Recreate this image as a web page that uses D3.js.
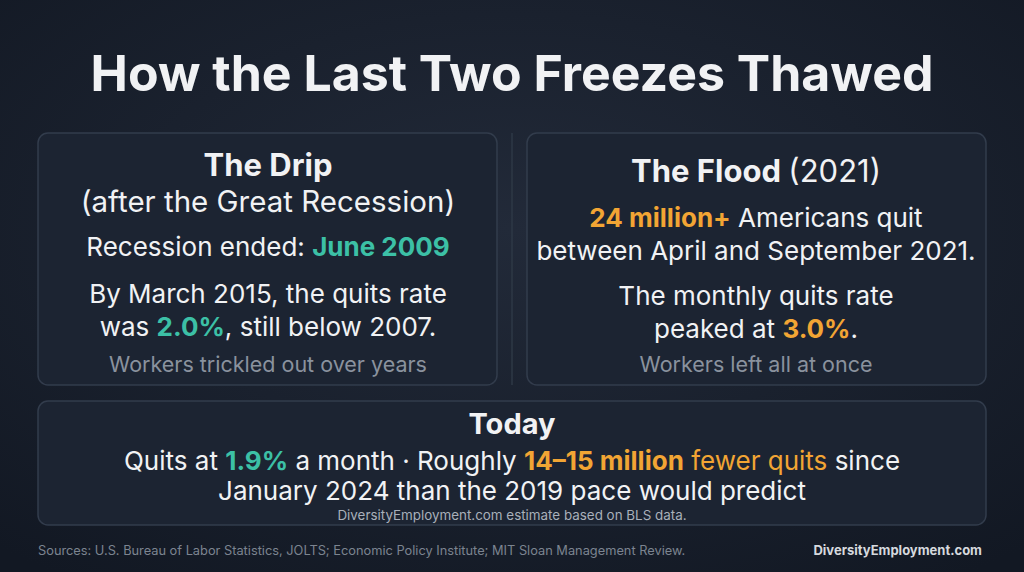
<!DOCTYPE html>
<html><head><meta charset="utf-8">
<script src="https://cdn.jsdelivr.net/npm/d3@7"></script>
<style>body{margin:0;background:#141b27;}svg{display:block}</style>
</head><body>
<script>
const title = "How the Last Two Freezes Thawed";
const panels = ["The Drip", "The Flood", "Today"];
const quitsRates = [2.0, 3.0, 1.9];       // March 2015, 2021 peak, today
const quitsMillions = [24, 14, 15];      // 2021 quits, fewer quits range
const dates = ["June 2009", "March 2015", "2007", "2021", "April", "September 2021", "January 2024", "2019"];
const footnote = "Sources: U.S. Bureau of Labor Statistics, JOLTS; Economic Policy Institute; MIT Sloan Management Review.";
const brand = "DiversityEmployment.com";

const W = 1024, H = 572;
const TEAL = "#3cc0a6", ORANGE = "#f2a534", WHITE = "#f1f2f4", GREY = "#8a929e";
const svg = d3.select("body").append("svg").attr("width", W).attr("height", H);
const defs = svg.append("defs");
const g = defs.append("radialGradient").attr("id","bg").attr("cx","50%").attr("cy","40%").attr("r","75%");
g.append("stop").attr("offset","0%").attr("stop-color","#222a39");
g.append("stop").attr("offset","100%").attr("stop-color","#121823");
svg.append("rect").attr("width",W).attr("height",H).attr("fill","url(#bg)");

const F = "Inter, 'Noto Sans', sans-serif";
svg.append("text").attr("x",512).attr("y",91).attr("text-anchor","middle")
  .attr("font-family",F).attr("font-weight",700).attr("font-size",50).attr("fill",WHITE).text(title);

function card(x,y,w,h){
  svg.append("rect").attr("x",x).attr("y",y).attr("width",w).attr("height",h).attr("rx",10)
    .attr("fill","#1c2432").attr("stroke","#323c4c").attr("stroke-width",1.5);
}
card(38,133,459,252); card(527,133,459,252); card(38,401,948,124);
svg.append("line").attr("x1",512).attr("x2",512).attr("y1",133).attr("y2",385).attr("stroke","#2e3846").attr("stroke-width",1.5);

function line(x,y,size,parts,opts={}){
  const t = svg.append("text").attr("x",x).attr("y",y).attr("text-anchor","middle")
    .attr("font-family",F).attr("font-size",size).attr("fill",opts.fill||WHITE);
  parts.forEach(p=>{
    const s = t.append("tspan").text(p[0]);
    if(p[1]) s.attr("fill",p[1]);
    if(p[2]) s.attr("font-weight",700);
  });
  return t;
}
const fmt = d3.format(".1f");
// Left
line(268,176,31,[[panels[0],WHITE,true]]);
line(268,212,29.5,[["(after the Great Recession)"]]);
line(268,256,26,[["Recession ended: "],[dates[0],TEAL,true]]);
line(268,303,26,[["By "+dates[1]+", the quits rate"]]);
line(268,336,26,[["was "],[fmt(quitsRates[0])+"%",TEAL,true],[", still below "+dates[2]+"."]]);
line(268,372,21.5,[["Workers trickled out over years"]],{fill:GREY});
// Right
line(756,182,31,[[panels[1]+" ",WHITE,true],["("+dates[3]+")"]]);
line(756,227,26,[[quitsMillions[0]+" million+",ORANGE,true],[" Americans quit"]]);
line(756,260,26,[["between "+dates[4]+" and "+dates[5]+"."]]);
line(756,305,26,[["The monthly quits rate"]]);
line(756,338,26,[["peaked at "],[fmt(quitsRates[1])+"%",ORANGE,true],["."]]);
line(756,372,21.5,[["Workers left all at once"]],{fill:GREY});
// Bottom
line(512,434,29,[[panels[2],WHITE,true]]);
line(512,470,26,[["Quits at "],[fmt(quitsRates[2])+"%",TEAL,true],[" a month · Roughly "],[quitsMillions[1]+"–"+quitsMillions[2]+" million",ORANGE,true],[" fewer quits",ORANGE],[" since"]]);
line(512,500,26,[[dates[6]+" than the "+dates[7]+" pace would predict"]]);
line(512,520,13.4,[[brand+" estimate based on BLS data."]],{fill:"#a9b0ba"});
// Footer
svg.append("text").attr("x",38).attr("y",555).attr("font-family",F).attr("font-size",12.8).attr("fill","#7c8490").text(footnote);
svg.append("text").attr("x",982).attr("y",555).attr("text-anchor","end").attr("font-family",F).attr("font-size",13).attr("font-weight",700).attr("fill","#d6d9de").text(brand);
</script>
</body></html>
